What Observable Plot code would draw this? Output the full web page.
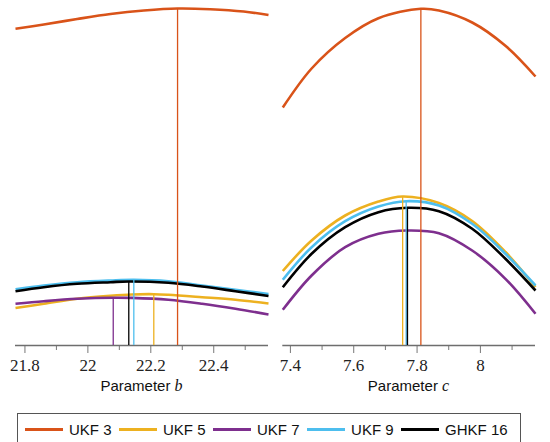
<!DOCTYPE html>
<html>
<head>
<meta charset="utf-8">
<script src="https://cdn.jsdelivr.net/npm/d3@7"></script>
<script src="https://cdn.jsdelivr.net/npm/@observablehq/plot@0.6"></script>
<style>
  body { margin: 0; background: #fff; width: 550px; height: 442px; overflow: hidden; position: relative; }
  #row { display: flex; }
  .panel { width: 275px; }
  .panel svg { display: block; }
  .panel svg text { font-family: "Liberation Serif", "DejaVu Serif", serif !important; }
  .xlabel { font: 15px "Liberation Sans", Arial, sans-serif; line-height: 20px; text-align: center; margin-top: 1px; color: #111; white-space: nowrap; }
  .xlabel i { font-family: "Liberation Serif", serif; font-size: 16px; }
  #legend { position: absolute; left: 16.5px; top: 413px; width: 504px; height: 34px; border: 1px solid #555; box-sizing: border-box;
            display: flex; align-items: center; padding-left: 7px; padding-bottom: 2px; font: 15px "Liberation Sans", Arial, sans-serif; color: #111; }
  .sw { display: inline-block; width: 38px; height: 3px; margin-right: 6.5px; }
  .lt { margin-right: 7px; white-space: nowrap; }
</style>
</head>
<body>
<div id="row">
  <div class="panel" id="pb"></div>
  <div class="panel" id="pc"></div>
</div>
<div id="legend"></div>
<script>
// ---- series ----
const seriesNames = ["UKF 3", "UKF 5", "UKF 7", "UKF 9", "GHKF 16"];
const seriesColors = ["#D95319", "#EDB120", "#7E2F8E", "#4DBEEE", "#000000"];

// ---- panel b (Parameter b) : curve samples (relative log-likelihood, arbitrary units) ----
const bX = [
  [21.77, 21.86, 21.966, 22.072, 22.178, 22.285, 22.389, 22.495, 22.574],
  [21.77, 21.86, 21.966, 22.072, 22.14, 22.21, 22.256, 22.363, 22.469, 22.574],
  [21.77, 21.86, 21.966, 22.081, 22.14, 22.256, 22.363, 22.469, 22.574],
  [21.77, 21.86, 21.966, 22.072, 22.146, 22.256, 22.363, 22.469, 22.574],
  [21.77, 21.86, 21.966, 22.072, 22.13, 22.256, 22.363, 22.469, 22.574]
];
const bY = [
  [316.7, 321, 326.5, 331.5, 335, 337, 336.3, 334, 330.5],
  [37.5, 41.7, 46.7, 49.7, 51, 51.3, 50.7, 48.3, 45.7, 42],
  [41.7, 44.3, 46.7, 47.8, 47.6, 45.7, 41.7, 36.7, 31],
  [56.3, 60, 63.3, 65, 65.7, 64.3, 60, 55.7, 51.5],
  [54.3, 58.3, 61.7, 63.3, 64, 62.7, 59, 54.3, 49.5]
];
const bPeakX = [22.285, 22.2095, 22.0806, 22.146, 22.13];
const bPeakY = [337, 51.3, 47.8, 65.7, 64];
const bDomain = [21.77, 22.574];
const bTicks = [21.8, 22, 22.2, 22.4];
const bTickLabels = ["21.8", "22", "22.2", "22.4"];
const bMinor = [21.9, 22.1, 22.3, 22.5];

// ---- panel c (Parameter c) ----
const cX = [
  [7.376, 7.467, 7.573, 7.678, 7.812, 7.869, 7.974, 8.079, 8.174],
  [7.376, 7.467, 7.573, 7.678, 7.7545, 7.869, 7.974, 8.079, 8.174],
  [7.376, 7.467, 7.573, 7.678, 7.768, 7.869, 7.974, 8.079, 8.174],
  [7.376, 7.467, 7.573, 7.678, 7.766, 7.869, 7.974, 8.079, 8.174],
  [7.376, 7.467, 7.573, 7.678, 7.770, 7.869, 7.974, 8.079, 8.174]
];
const cY = [
  [238, 277, 307.5, 327.3, 336.7, 335, 323, 299.7, 269],
  [74.5, 105, 130, 144, 149, 142.5, 124.5, 93.5, 58.5],
  [35.7, 70, 98.3, 111.7, 115, 112.3, 95, 66.7, 31.7],
  [65.7, 98.3, 124.3, 139, 144.3, 140, 121.7, 91.7, 60],
  [58.3, 91.7, 118.3, 133.3, 137.7, 134.3, 116.7, 86.7, 55]
];
const cPeakX = [7.812, 7.7545, 7.768, 7.7656, 7.7697];
const cPeakY = [336.7, 149, 115, 144.3, 137.7];
const cDomain = [7.376, 8.174];
const cTicks = [7.4, 7.6, 7.8, 8];
const cTickLabels = ["7.4", "7.6", "7.8", "8"];
const cMinor = [7.5, 7.7, 7.9, 8.1];

function panel(xs, ys, peakX, peakY, domain, ticks, tickLabels, minor, ml, mr) {
  const curves = seriesNames.flatMap((s, i) => xs[i].map((x, j) => ({s, x, y: ys[i][j]})));
  const peaks = seriesNames.map((s, i) => ({s, x: peakX[i], y: peakY[i]}));
  return Plot.plot({
    width: 275, height: 375,
    marginLeft: ml, marginRight: mr, marginTop: 7.7, marginBottom: 30,
    style: {fontFamily: "Liberation Serif", fontSize: "17px", background: "transparent", overflow: "visible"},
    x: {domain, label: null},
    y: {domain: [0, 337.3], axis: null},
    color: {domain: seriesNames, range: seriesColors},
    marks: [
      Plot.axisX({ticks: minor, tickSize: 5, tickFormat: () => "", stroke: "#777", label: null}),
      Plot.axisX({ticks, tickSize: 8, tickPadding: 5, tickFormat: d => tickLabels[ticks.indexOf(d)],
                  stroke: "#777", fill: "#222", fontSize: 17, fontFamily: "Liberation Serif", label: null}),
      Plot.ruleY([0], {stroke: "#6e6e6e", strokeWidth: 1.3}),
      Plot.line(curves, {x: "x", y: "y", z: "s", stroke: "s", strokeWidth: 2.6, curve: "catmull-rom", strokeLinecap: "butt"}),
      Plot.ruleX(peaks, {x: "x", y1: 0, y2: "y", stroke: "s", strokeWidth: 1.3})
    ]
  });
}

const pb = document.getElementById("pb");
pb.append(panel(bX, bY, bPeakX, bPeakY, bDomain, bTicks, bTickLabels, bMinor, 15, 7));
const lb = document.createElement("div");
lb.className = "xlabel"; lb.style.paddingLeft = "15px"; lb.style.paddingRight = "7px";
lb.innerHTML = "Parameter <i>b</i>";
pb.append(lb);

const pc = document.getElementById("pc");
pc.append(panel(cX, cY, cPeakX, cPeakY, cDomain, cTicks, cTickLabels, cMinor, 7.3, 15));
const lc = document.createElement("div");
lc.className = "xlabel"; lc.style.paddingLeft = "7px"; lc.style.paddingRight = "15px";
lc.innerHTML = "Parameter <i>c</i>";
pc.append(lc);

const leg = document.getElementById("legend");
seriesNames.forEach((s, i) => {
  const sw = document.createElement("span");
  sw.className = "sw"; sw.style.background = seriesColors[i];
  const t = document.createElement("span");
  t.className = "lt"; t.textContent = s;
  leg.append(sw, t);
});
</script>
</body>
</html>
